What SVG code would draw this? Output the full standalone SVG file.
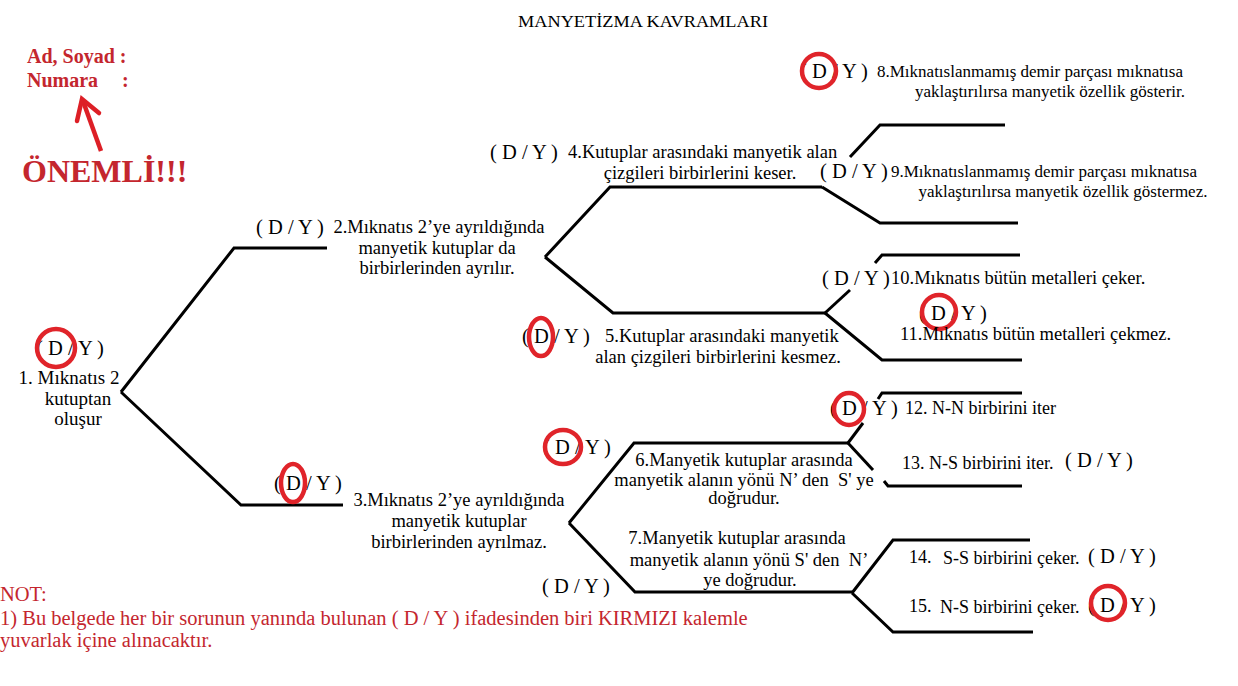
<svg xmlns="http://www.w3.org/2000/svg" width="1238" height="686" viewBox="0 0 1238 686">
<style>
text{font-family:"Liberation Serif","Times New Roman",serif;fill:#000}
.t{font-size:18.5px}
.s{font-size:17px}
.m{font-size:18px}
.dy{font-size:20.5px}
.c{text-anchor:middle}
.red{fill:#c4262e}
.b{font-weight:bold}
.ring{fill:none;stroke:#e0242a;stroke-width:4.5}
.ln{fill:none;stroke:#000;stroke-width:3;stroke-linejoin:miter}
</style>
<rect width="1238" height="686" fill="#fff"/>

<g id="title"><text x="643" y="27" class="c" style="font-size:17px" textLength="250" lengthAdjust="spacingAndGlyphs">MANYETİZMA KAVRAMLARI</text></g>

<g id="header">
<text x="27" y="63" class="red b" style="font-size:20px">Ad, Soyad :</text>
<text x="27" y="87" class="red b" style="font-size:20px">Numara</text>
<text x="122" y="87" class="red b" style="font-size:20px">:</text>
<path d="M101,151 L83,101" fill="none" stroke="#dd1f26" stroke-width="4.5"/>
<path d="M77,121 L82,99 L99,113" fill="none" stroke="#dd1f26" stroke-width="4.5" stroke-linecap="round"/>
<text x="22" y="182" class="red b" style="font-size:32px">ÖNEMLİ!!!</text>
</g>

<g id="connectors">
<path class="ln" d="M121,392 L234,248 L327,248"/>
<path class="ln" d="M121,392 L241,505 L343,505"/>
<path class="ln" d="M545,257 L610,187 L822,187"/>
<path class="ln" d="M545,257 L613,313 L825,313"/>
<path class="ln" d="M850,157 L880,125 L1005,125"/>
<path class="ln" d="M822,187 L880,223 L1018,223"/>
<path class="ln" d="M825,313 L850,290"/>
<path class="ln" d="M875,263 L882,255 L1020,255"/>
<path class="ln" d="M825,313 L882,360 L1022,360"/>
<path class="ln" d="M569,523 L634,443 L848,443"/>
<path class="ln" d="M569,523 L635,592 L852,592"/>
<path class="ln" d="M848,443 L863,423"/>
<path class="ln" d="M878,399 L882,393 L1022,393"/>
<path class="ln" d="M848,443 L873,470"/>
<path class="ln" d="M884,481 L888,486 L1022,486"/>
<path class="ln" d="M852,593 L893,540 L1030,540"/>
<path class="ln" d="M852,593 L893,632 L1033,632"/>
</g>

<g id="node1">
<text x="36" y="355" class="dy">( D / Y )</text>
<ellipse cx="56" cy="348" rx="19" ry="19" class="ring"/>
<text x="69" y="384" class="c" style="font-size:19px">1. Mıknatıs 2</text>
<text x="78" y="405" class="c" style="font-size:19px">kutuptan</text>
<text x="78" y="425" class="c" style="font-size:19px">oluşur</text>
</g>

<g id="node2">
<text x="256" y="234" class="dy">( D / Y )</text>
<text x="439" y="233" class="t c">2.Mıknatıs 2’ye ayrıldığında</text>
<text x="437" y="254" class="t c">manyetik kutuplar da</text>
<text x="437" y="274" class="t c">birbirlerinden ayrılır.</text>
</g>

<g id="node3">
<text x="274" y="490" class="dy">( D / Y )</text>
<ellipse cx="293" cy="483" rx="12" ry="19" class="ring"/>
<text x="459" y="506" class="t c">3.Mıknatıs 2’ye ayrıldığında</text>
<text x="459" y="527" class="t c">manyetik kutuplar</text>
<text x="459" y="548" class="t c">birbirlerinden ayrılmaz.</text>
</g>

<g id="node4">
<text x="490" y="159" class="dy">( D / Y )</text>
<text x="568" y="158" class="t">4.Kutuplar arasındaki manyetik alan</text>
<text x="700" y="179" class="t c">çizgileri birbirlerini keser.</text>
</g>

<g id="node5">
<text x="522" y="343" class="dy">( D / Y )</text>
<ellipse cx="541" cy="337" rx="12" ry="19" class="ring"/>
<text x="605" y="342" class="t">5.Kutuplar arasındaki manyetik</text>
<text x="718" y="363" class="t c">alan çizgileri birbirlerini kesmez.</text>
</g>

<g id="node6">
<text x="543" y="454" class="dy">( D / Y )</text>
<ellipse cx="563" cy="447" rx="18" ry="17" class="ring"/>
<text x="744" y="466" class="t c">6.Manyetik kutuplar arasında</text>
<text x="744" y="486" class="t c">manyetik alanın yönü N’ den&#160; S' ye</text>
<text x="744" y="504" class="t c">doğrudur.</text>
</g>

<g id="node7">
<text x="542" y="593" class="dy">( D / Y )</text>
<text x="737" y="544" class="t c">7.Manyetik kutuplar arasında</text>
<text x="749" y="566" class="t c">manyetik alanın yönü S' den&#160; N’</text>
<text x="750" y="586" class="t c">ye doğrudur.</text>
</g>

<g id="node8">
<text x="800" y="78" class="dy">( D / Y )</text>
<ellipse cx="819" cy="71" rx="17" ry="17" class="ring"/>
<text x="877" y="77" class="s">8.Mıknatıslanmamış demir parçası mıknatısa</text>
<text x="1050" y="97" class="s c">yaklaştırılırsa manyetik özellik gösterir.</text>
</g>

<g id="node9">
<text x="820" y="178" class="dy">( D / Y )</text>
<text x="891" y="177" class="s">9.Mıknatıslanmamış demir parçası mıknatısa</text>
<text x="1063" y="197" class="s c">yaklaştırılırsa manyetik özellik göstermez.</text>
</g>

<g id="node10">
<text x="822" y="285" class="dy">( D / Y )</text>
<text x="891" y="284" class="t">10.Mıknatıs bütün metalleri çeker.</text>
</g>

<g id="node11">
<text x="919" y="320" class="dy">( D / Y )</text>
<ellipse cx="939" cy="312" rx="17" ry="17" class="ring"/>
<text x="900" y="340" class="t">11.Mıknatıs bütün metalleri çekmez.</text>
</g>

<g id="node12">
<text x="830" y="415" class="dy">( D / Y )</text>
<ellipse cx="849" cy="409" rx="15" ry="16" class="ring"/>
<text x="905" y="414" class="m">12. N-N birbirini iter</text>
</g>

<g id="node13">
<text x="902" y="469" class="m">13. N-S birbirini iter.</text>
<text x="1065" y="467" class="dy">( D / Y )</text>
</g>

<g id="node14">
<text x="909" y="563" class="m">14.</text>
<text x="943" y="564" class="m">S-S birbirini çeker.</text>
<text x="1088" y="563" class="dy">( D / Y )</text>
</g>

<g id="node15">
<text x="909" y="612" class="m">15.</text>
<text x="940" y="613" class="m">N-S birbirini çeker.</text>
<text x="1088" y="612" class="dy">( D / Y )</text>
<ellipse cx="1108" cy="603" rx="17" ry="17" class="ring"/>
</g>

<g id="note">
<text x="0" y="601" class="red" style="font-size:20.5px">NOT:</text>
<text x="0" y="625" class="red" style="font-size:20.5px">1) Bu belgede her bir sorunun yanında bulunan ( D / Y ) ifadesinden biri KIRMIZI kalemle</text>
<text x="0" y="647" class="red" style="font-size:20.5px">yuvarlak içine alınacaktır.</text>
</g>
</svg>
